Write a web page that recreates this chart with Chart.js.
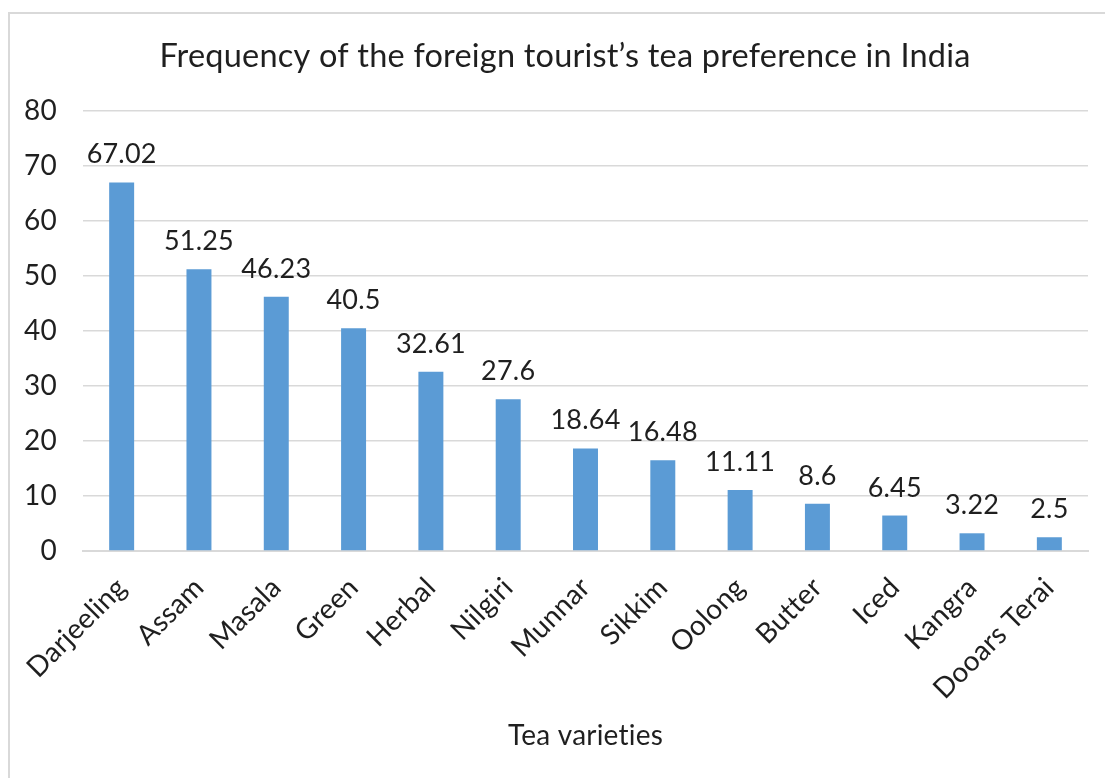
<!DOCTYPE html>
<html>
<head>
<meta charset="utf-8">
<script src="https://cdn.jsdelivr.net/npm/chart.js@4"></script>
<style>
  html, body { margin: 0; padding: 0; background: #fff; overflow: hidden; }
  #frame {
    position: absolute; left: 8px; top: 12px; width: 1114px; height: 900px;
    border: 2px solid #d9d9d9; box-sizing: border-box;
  }
  #wrap { position: absolute; left: 0; top: 0; width: 1105px; height: 778px; }
</style>
</head>
<body>
<div id="frame"></div>
<div id="wrap"><canvas id="teaChart"></canvas></div>
<script>
const varieties = ["Darjeeling", "Assam", "Masala", "Green", "Herbal", "Nilgiri", "Munnar",
  "Sikkim", "Oolong", "Butter", "Iced", "Kangra", "Dooars Terai"];
const frequency = [67.02, 51.25, 46.23, 40.5, 32.61, 27.6, 18.64, 16.48, 11.11, 8.6, 6.45, 3.22, 2.5];
const yTicks = [0, 10, 20, 30, 40, 50, 60, 70, 80];
const chartTitle = "Frequency of the foreign tourist’s tea preference in India";

const FONT = "Lato, 'Open Sans', sans-serif";
const TEXT = "#1f1f1f";

// a tiny letter spacing stops Lato's "ti" ligature
const noLigatures = {
  id: "noLigatures",
  beforeDraw(chart) {
    chart.ctx.letterSpacing = "0.2px";
  }
};

// title is centred on the outer frame, not on the canvas
const frameTitle = {
  id: "frameTitle",
  afterDraw(chart) {
    const ctx = chart.ctx;
    ctx.save();
    ctx.font = "32.5px " + FONT;
    ctx.fillStyle = TEXT;
    ctx.textAlign = "center";
    ctx.textBaseline = "middle";
    ctx.fillText(chartTitle, 565, 57);
    ctx.restore();
  }
};

// value printed above each bar
const barValues = {
  id: "barValues",
  afterDatasetsDraw(chart) {
    const ctx = chart.ctx;
    const meta = chart.getDatasetMeta(0);
    ctx.save();
    ctx.font = "27px " + FONT;
    ctx.fillStyle = TEXT;
    ctx.textAlign = "center";
    ctx.textBaseline = "alphabetic";
    meta.data.forEach((bar, i) => {
      ctx.fillText(String(chart.data.datasets[0].data[i]), bar.x, bar.y - 19);
    });
    ctx.restore();
  }
};

const ctx = document.getElementById("teaChart").getContext("2d");
new Chart(ctx, {
  type: "bar",
  data: {
    labels: varieties,
    datasets: [{
      data: frequency,
      backgroundColor: "#5b9bd5",
      categoryPercentage: 1,
      barPercentage: 0.323
    }]
  },
  options: {
    responsive: true,
    maintainAspectRatio: false,
    animation: false,
    layout: { padding: { left: 0, right: 17, top: 111, bottom: 0 } },
    plugins: {
      legend: { display: false },
      tooltip: { enabled: false },
      title: { display: false }
    },
    scales: {
      y: {
        min: 0,
        max: 80,
        afterFit: (scale) => { scale.width = 83; },
        afterBuildTicks: (scale) => { scale.ticks = yTicks.map((v) => ({ value: v })); },
        grid: { color: "#d9d9d9", lineWidth: 1.5, drawTicks: false },
        border: { display: false },
        ticks: {
          padding: 26,
          color: TEXT,
          font: { family: FONT, size: 28 }
        }
      },
      x: {
        afterFit: (scale) => { scale.height = 227; },
        grid: { display: false, drawTicks: false },
        border: { display: true, color: "#d9d9d9", width: 2 },
        ticks: {
          minRotation: 45,
          maxRotation: 45,
          autoSkip: false,
          padding: 20,
          color: TEXT,
          font: { family: FONT, size: 28 }
        },
        title: {
          display: true,
          text: "Tea varieties",
          color: TEXT,
          font: { family: FONT, size: 28, lineHeight: 1.2 },
          padding: { top: 4, bottom: 25 }
        }
      }
    }
  },
  plugins: [noLigatures, barValues, frameTitle]
});
</script>
</body>
</html>
